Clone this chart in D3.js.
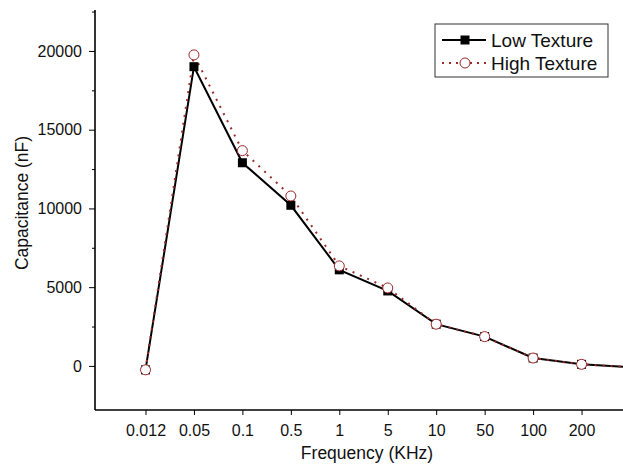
<!DOCTYPE html>
<html>
<head>
<meta charset="utf-8">
<script src="https://cdn.jsdelivr.net/npm/d3@7"></script>
<style>
  body { margin: 0; background: #fff; }
  text { font-family: "Liberation Sans", Arial, sans-serif; fill: #111; }
</style>
</head>
<body>
<div id="chart"></div>
<script>
// --> DATA
var frequencies = ["0.012", "0.05", "0.1", "0.5", "1", "5", "10", "50", "100", "200", "500"];
var lowTexture  = [-250, 19000, 12900, 10200, 6100, 4760, 2650, 1860, 500, 100, -80];
var highTexture = [-250, 19750, 13670, 10790, 6350, 4950, 2650, 1860, 500, 100, -80];
var yTicks = [0, 5000, 10000, 15000, 20000];
var yMinorTicks = [2500, 7500, 12500, 17500, 22500];
var seriesNames = ["Low Texture", "High Texture"];

var width = 623,
    height = 468;

var svg = d3.select("#chart").append("svg")
    .attr("width", width)
    .attr("height", height);

var x = d3.scalePoint()
    .domain(frequencies)
    .range([145.5, 630]);

var y = d3.scaleLinear()
    .domain([-2800, 22600])
    .range([410, 10]);

// axes
var xAxis = svg.append("g")
    .attr("transform", "translate(0,410)")
    .call(d3.axisBottom(x).tickValues(frequencies.slice(0, 10)).tickSizeOuter(0).tickSize(5).tickPadding(10));
xAxis.select(".domain").attr("d", "M95,0H623").attr("stroke-width", 1.6);
xAxis.selectAll("text").style("font-size", "16px");

var yAxis = svg.append("g")
    .attr("transform", "translate(95,0)")
    .call(d3.axisLeft(y).tickValues(yTicks).tickFormat(d3.format("d")).tickSizeOuter(0).tickSize(6).tickPadding(7));
yAxis.select(".domain").attr("d", "M0,410V10").attr("stroke-width", 1.6);
yAxis.selectAll("text").style("font-size", "16px");

svg.append("g")
    .attr("transform", "translate(95,0)")
    .call(d3.axisLeft(y).tickValues(yMinorTicks).tickSize(3).tickFormat(""))
    .select(".domain").remove();

// titles
svg.append("text")
    .attr("x", 367)
    .attr("y", 459)
    .attr("text-anchor", "middle")
    .style("font-size", "17.5px")
    .text("Frequency (KHz)");

svg.append("text")
    .attr("transform", "translate(28,203) rotate(-90)")
    .attr("text-anchor", "middle")
    .style("font-size", "17.5px")
    .text("Capacitance (nF)");

// lines
var line = d3.line()
    .x(function(d, i) { return x(frequencies[i]); })
    .y(function(d) { return y(d); });

var highColor = "#9b2a2a";

svg.append("path")
    .datum(lowTexture)
    .attr("d", line)
    .attr("fill", "none")
    .attr("stroke", "#000")
    .attr("stroke-width", 2);

svg.append("path")
    .datum(highTexture)
    .attr("d", line)
    .attr("fill", "none")
    .attr("stroke", highColor)
    .attr("stroke-width", 2)
    .attr("stroke-dasharray", "2,6");

svg.selectAll(".low-marker")
    .data(lowTexture)
    .enter().append("rect")
    .attr("class", "low-marker")
    .attr("x", function(d, i) { return x(frequencies[i]) - 4.5; })
    .attr("y", function(d) { return y(d) - 4.5; })
    .attr("width", 9)
    .attr("height", 9)
    .attr("fill", "#000");

svg.selectAll(".high-marker")
    .data(highTexture)
    .enter().append("circle")
    .attr("class", "high-marker")
    .attr("cx", function(d, i) { return x(frequencies[i]); })
    .attr("cy", function(d) { return y(d); })
    .attr("r", 5)
    .attr("fill", "#fff")
    .attr("stroke", highColor)
    .attr("stroke-width", 1);

// legend
var legend = svg.append("g").attr("transform", "translate(435,24)");
legend.append("rect")
    .attr("width", 173)
    .attr("height", 53)
    .attr("fill", "#fff")
    .attr("stroke", "#333")
    .attr("stroke-width", 1);

var rows = legend.selectAll(".legend")
    .data(seriesNames)
    .enter().append("g")
    .attr("class", "legend")
    .attr("transform", function(d, i) { return "translate(0," + (16 + 23 * i) + ")"; });

rows.append("line")
    .attr("x1", 7).attr("x2", 51)
    .attr("stroke", function(d, i) { return i == 0 ? "#000" : highColor; })
    .attr("stroke-width", 2)
    .attr("stroke-dasharray", function(d, i) { return i == 0 ? null : "2,5"; });

rows.filter(function(d, i) { return i == 0; }).append("rect")
    .attr("x", 25.5).attr("y", -4.5).attr("width", 9).attr("height", 9)
    .attr("fill", "#000");
rows.filter(function(d, i) { return i == 1; }).append("circle")
    .attr("cx", 30).attr("r", 5)
    .attr("fill", "#fff").attr("stroke", highColor);

rows.append("text")
    .attr("x", 56)
    .attr("y", 7)
    .style("font-size", "19px")
    .text(function(d) { return d; });
</script>
</body>
</html>
